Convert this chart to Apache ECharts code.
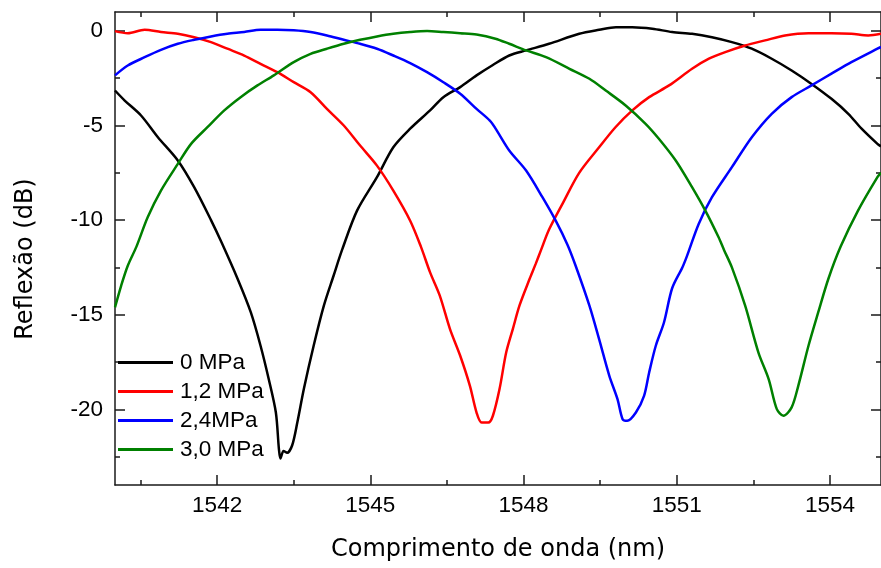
<!DOCTYPE html>
<html><head><meta charset="utf-8">
<script src="https://cdn.jsdelivr.net/npm/echarts@6/dist/echarts.min.js"></script>
<style>html,body{margin:0;padding:0;background:#fff}#c{width:881px;height:568px}</style>
</head><body><div id="c"></div>
<script>
const seriesNames = ['0 MPa', '1,2 MPa', '2,4MPa', '3,0 MPa'];
const seriesColors = ['#000000', '#ff0000', '#0000ff', '#008000'];
const xMajorTicks = [1542, 1545, 1548, 1551, 1554];
const xMinorTicks = [1540.5, 1543.5, 1546.5, 1549.5, 1552.5];
const yMajorTicks = [-20, -15, -10, -5, 0];
const yMinorTicks = [-22.5, -17.5, -12.5, -7.5, -2.5];
const xTitle = 'Comprimento de onda (nm)';
const yTitle = 'Reflexão (dB)';

// 0 MPa
const wl0 = [1540.00,1540.19,1540.51,1540.84,1541.23,1541.55,1541.88,1542.09,1542.40,1542.66,1542.85,1543.01,1543.15,1543.21,1543.24,1543.30,1543.37,1543.47,1543.57,1543.70,1543.89,1544.09,1544.28,1544.45,1544.74,1545.13,1545.45,1545.78,1546.17,1546.43,1546.76,1547.08,1547.40,1547.72,1548.05,1548.50,1549.09,1549.48,1549.81,1550.13,1550.52,1550.91,1551.30,1551.69,1552.08,1552.47,1552.86,1553.25,1553.64,1554.03,1554.36,1554.62,1554.93,1555.00];
const db0 = [-3.15,-3.68,-4.47,-5.62,-6.85,-8.26,-10.0,-11.2,-13.1,-14.88,-16.64,-18.4,-20.17,-22.1,-22.6,-22.2,-22.3,-21.9,-20.7,-18.9,-16.64,-14.52,-12.94,-11.55,-9.5,-7.73,-6.15,-5.17,-4.2,-3.5,-2.97,-2.35,-1.8,-1.3,-1.03,-0.68,-0.15,0.06,0.2,0.2,0.12,-0.06,-0.15,-0.33,-0.59,-0.94,-1.47,-2.09,-2.8,-3.59,-4.38,-5.17,-5.97,-6.1];

// 1,2 MPa
const wl1 = [1540.00,1540.25,1540.58,1540.90,1541.23,1541.55,1541.88,1542.20,1542.53,1542.85,1543.18,1543.50,1543.83,1544.15,1544.48,1544.80,1545.13,1545.45,1545.78,1545.99,1546.17,1546.36,1546.56,1546.76,1546.95,1547.08,1547.18,1547.31,1547.40,1547.53,1547.66,1547.79,1547.92,1548.12,1548.24,1548.34,1548.50,1548.77,1549.09,1549.48,1549.80,1550.13,1550.46,1550.85,1551.30,1551.63,1551.95,1552.34,1552.73,1553.12,1553.58,1554.03,1554.42,1554.75,1555.00];
const db1 = [-0.01,-0.12,0.06,-0.06,-0.15,-0.33,-0.59,-0.94,-1.3,-1.74,-2.18,-2.71,-3.24,-4.12,-5.0,-6.06,-7.12,-8.44,-10.03,-11.4,-12.76,-13.99,-15.76,-17.17,-18.76,-20.17,-20.7,-20.7,-20.34,-18.93,-17.0,-15.76,-14.52,-13.1,-12.3,-11.6,-10.5,-9.1,-7.5,-6.15,-5.09,-4.2,-3.5,-2.88,-2.0,-1.47,-1.12,-0.77,-0.5,-0.24,-0.12,-0.12,-0.15,-0.24,-0.15];

// 2,4 MPa
const wl2 = [1540.00,1540.25,1540.58,1540.90,1541.23,1541.55,1541.88,1542.20,1542.53,1542.85,1543.18,1543.50,1543.83,1544.15,1544.48,1544.80,1545.13,1545.45,1545.78,1546.11,1546.43,1546.76,1547.08,1547.34,1547.45,1547.72,1548.05,1548.37,1548.63,1548.86,1549.02,1549.29,1549.48,1549.68,1549.84,1549.94,1550.03,1550.20,1550.36,1550.46,1550.59,1550.75,1550.91,1551.11,1551.20,1551.43,1551.69,1552.08,1552.47,1552.86,1553.25,1553.64,1554.03,1554.42,1554.93,1555.00];
const db2 = [-2.35,-1.83,-1.39,-1.0,-0.68,-0.47,-0.29,-0.15,-0.06,0.06,0.06,0.03,-0.06,-0.24,-0.47,-0.68,-0.94,-1.3,-1.7,-2.18,-2.71,-3.32,-4.12,-4.74,-5.15,-6.32,-7.38,-8.79,-10.03,-11.3,-12.41,-14.52,-16.29,-18.23,-19.46,-20.52,-20.61,-20.17,-19.29,-18.05,-16.64,-15.41,-13.6,-12.5,-11.9,-10.2,-8.79,-7.2,-5.62,-4.38,-3.5,-2.88,-2.26,-1.65,-0.94,-0.85];

// 3,0 MPa
const wl3 = [1540.00,1540.12,1540.25,1540.42,1540.64,1540.90,1541.23,1541.49,1541.81,1542.14,1542.46,1542.79,1543.11,1543.50,1543.83,1544.15,1544.48,1544.80,1545.13,1545.45,1545.78,1546.11,1546.43,1546.76,1547.08,1547.45,1547.72,1548.05,1548.44,1548.90,1549.29,1549.61,1550.00,1550.39,1550.65,1550.98,1551.30,1551.56,1551.82,1551.93,1552.08,1552.34,1552.60,1552.80,1552.96,1553.09,1553.25,1553.38,1553.58,1553.77,1553.97,1554.21,1554.55,1554.93,1555.00];
const db3 = [-14.61,-13.47,-12.41,-11.4,-9.85,-8.44,-7.03,-5.97,-5.09,-4.2,-3.5,-2.88,-2.35,-1.65,-1.21,-0.94,-0.68,-0.47,-0.29,-0.15,-0.06,-0.01,-0.06,-0.12,-0.19,-0.41,-0.68,-1.03,-1.39,-2.0,-2.53,-3.15,-3.94,-4.91,-5.7,-6.85,-8.26,-9.5,-10.91,-11.6,-12.5,-14.52,-17.0,-18.4,-19.99,-20.34,-19.9,-18.76,-16.64,-14.88,-13.1,-11.4,-9.5,-7.73,-7.5];

const wls = [wl0, wl1, wl2, wl3];
const dbs = [db0, db1, db2, db3];

const AX = '#1a1a1a';
const LABEL_FONT = 'Liberation Sans, Arial, sans-serif';
function xAx(pos, vals, len, labels, line, name) {
  const a = {
    type: 'value', min: 1540, max: 1555, position: pos,
    axisLine: { show: line, onZero: false, lineStyle: { color: AX, width: 1.5 } },
    axisTick: { show: true, inside: true, length: len, customValues: vals, lineStyle: { color: AX, width: 1.5 } },
    axisLabel: { show: labels, customValues: vals, color: '#000', fontSize: 22.5, fontFamily: LABEL_FONT, margin: 9, formatter: v => String(v) },
    splitLine: { show: false }
  };
  if (name) {
    a.name = name; a.nameLocation = 'middle'; a.nameGap = 53;
    a.nameTextStyle = { fontFamily: 'DejaVu Sans', fontSize: 24, color: '#000' };
  }
  return a;
}
function yAx(pos, vals, len, labels, line) {
  return {
    type: 'value', min: -24, max: 1, position: pos,
    axisLine: { show: line, onZero: false, lineStyle: { color: AX, width: 1.5 } },
    axisTick: { show: true, inside: true, length: len, customValues: vals, lineStyle: { color: AX, width: 1.5 } },
    axisLabel: { show: labels, customValues: vals, color: '#000', fontSize: 22.5, fontFamily: LABEL_FONT, margin: 12, formatter: v => String(v) },
    splitLine: { show: false }
  };
}

const chart = echarts.init(document.getElementById('c'), null, { renderer: 'canvas' });
chart.setOption({
  animation: false,
  backgroundColor: '#fff',
  grid: { left: 115, top: 12, width: 770, height: 473, containLabel: false },
  xAxis: [
    xAx('bottom', xMajorTicks, 10, true, true, xTitle),
    xAx('bottom', xMinorTicks, 5, false, false),
    xAx('top', xMajorTicks, 10, false, true),
    xAx('top', xMinorTicks, 5, false, false)
  ],
  yAxis: [
    yAx('left', yMajorTicks, 10, true, true),
    yAx('left', yMinorTicks, 5, false, false),
    yAx('right', yMajorTicks, 10, false, true),
    yAx('right', yMinorTicks, 5, false, false)
  ],
  graphic: [{
    type: 'text', x: 26, y: 259, rotation: Math.PI / 2,
    style: { text: yTitle, font: '24px "DejaVu Sans"', fill: '#000', align: 'center', verticalAlign: 'middle' }
  }],
  legend: {
    orient: 'vertical', left: 113, top: 346,
    itemWidth: 55, itemHeight: 3, itemGap: 6, icon: 'rect',
    textStyle: { fontFamily: LABEL_FONT, fontSize: 22.5, color: '#000', padding: [0, 0, 0, 2] },
    data: seriesNames
  },
  series: seriesNames.map((n, i) => ({
    name: n, type: 'line', xAxisIndex: 0, yAxisIndex: 0,
    data: wls[i].map((w, j) => [w, dbs[i][j]]),
    symbol: 'none', smooth: 0.3,
    lineStyle: { color: seriesColors[i], width: 2.5 },
    itemStyle: { color: seriesColors[i] }
  }))
});
</script></body></html>
